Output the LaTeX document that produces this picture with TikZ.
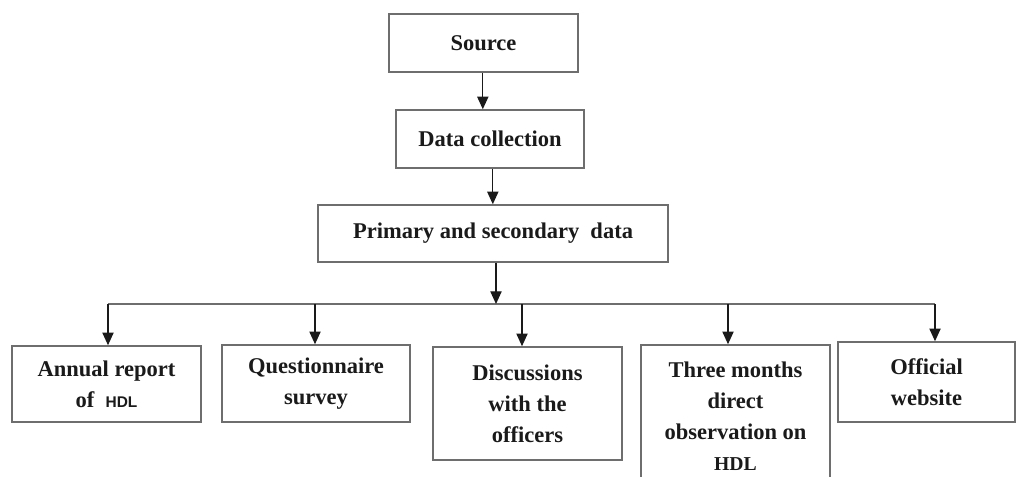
\documentclass[tikz,border=0pt]{standalone}
\usepackage{fontspec}
\setmainfont{Liberation Serif}
\newfontfamily\hdlfont{Liberation Sans}
\usetikzlibrary{arrows.meta,positioning}
\definecolor{boxline}{HTML}{6E6E6E}
\definecolor{inkblack}{HTML}{1A1A1A}
\tikzset{
  flowbox/.style={
    rectangle, draw=boxline, line width=1.1pt, fill=white,
    minimum width=#1, text=inkblack,
    font=\fontsize{16}{22}\selectfont\bfseries, align=center,
    inner sep=2pt
  },
  flowbox/.default=4.7cm,
  flowarrow/.style={
    -{Triangle[length=9pt, width=8pt]}, line width=0.9pt, color=inkblack
  },
  busline/.style={
    line width=1.1pt, color=boxline
  },
}

\begin{document}
\begin{tikzpicture}[x=0.025cm, y=-0.025cm]
  \clip (0,0) rectangle (1016,476);

  % Top chain
  \node[flowbox=4.725cm, minimum height=1.45cm] (source) at (483.5,43) {Source};
  \node[flowbox=4.7cm, minimum height=1.45cm] (collect) at (490,139) {Data collection};
  \node[flowbox=8.75cm, minimum height=1.425cm] (primary) at (493,233.5) {Primary and secondary\ \ data};

  \draw[flowarrow] ([xshift=-0.5pt]source.south) -- ([xshift=-0.5pt]source.south |- collect.north);
  \draw[flowarrow] ([xshift=2pt]collect.south) -- ([xshift=2pt]collect.south |- primary.north);

  % Leaves
  \node[flowbox=4.725cm, minimum height=1.9cm] (annual) at (106.5,384)
    {Annual report\\of\ \ {\hdlfont\fontsize{11}{22}\selectfont HDL}};
  \node[flowbox=4.7cm, minimum height=1.925cm] (survey) at (316,383.5)
    {Questionnaire\\survey};
  \node[flowbox=4.725cm, minimum height=2.825cm] (officers) at (527.5,403.5)
    {Discussions\\with the\\officers};
  \node[flowbox=4.725cm, minimum height=3.55cm] (observe) at (735.5,416)
    {Three months\\direct\\observation on\\{\fontsize{14}{22}\selectfont HDL}};
  \node[flowbox=4.425cm, minimum height=2.0cm] (website) at (926.5,382)
    {Official\\website};

  % Distribution bus
  \coordinate (bus) at (496,304);
  \coordinate (d1) at (108,304);
  \coordinate (d2) at (315,304);
  \coordinate (d3) at (522,304);
  \coordinate (d4) at (728,304);
  \coordinate (d5) at (935,304);

  \draw[busline] (d1) -- (d5);
  \draw[flowarrow] (primary.south -| bus) -- (bus);
  \draw[flowarrow] (d1) -- (d1 |- annual.north);
  \draw[flowarrow] (d2) -- (d2 |- survey.north);
  \draw[flowarrow] (d3) -- (d3 |- officers.north);
  \draw[flowarrow] (d4) -- (d4 |- observe.north);
  \draw[flowarrow] (d5) -- (d5 |- website.north);
\end{tikzpicture}
\end{document}
